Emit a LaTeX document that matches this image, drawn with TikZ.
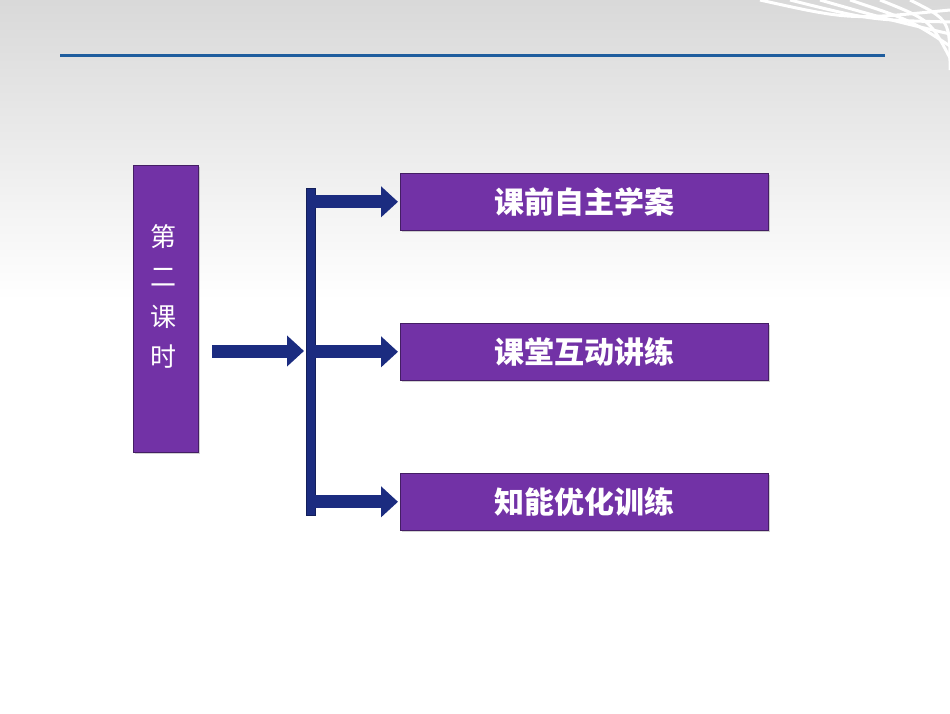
\documentclass[tikz,border=0pt]{standalone}
\usepackage{fontspec}
\newfontfamily\cjk{Noto Sans CJK SC}
\usetikzlibrary{positioning,arrows.meta,shadows}
\definecolor{topic}{HTML}{7232A6}
\definecolor{navy}{HTML}{1B2C80}
\definecolor{rule}{HTML}{1F5D9E}
\tikzset{
  topic/.style={fill=topic, draw=topic!60!black, line width=0.6pt, drop shadow={opacity=0.35},
    minimum width=368pt, minimum height=57pt, font=\cjk\bfseries\fontsize{30}{34}\selectfont, text=white},
  branch/.style={draw=navy, line width=13pt, -{Triangle[width=30pt,length=17pt]}, shorten >=2pt}
}
\begin{document}
\begin{tikzpicture}[x=1pt, y=-1pt]
  % background
  \useasboundingbox (0,0) rectangle (950,713);
  \shade[top color=black!15, bottom color=white] (0,0) rectangle (950,300);
  \fill[white] (0,300) rectangle (950,713);
  % top-right decoration
  \foreach \i in {0,...,5}
    \draw[white, line width=3pt] (760+\i*30,0) .. controls (850+\i*20,20) .. (950,10+\i*12);
  \draw[rule, line width=3pt] (60,55) -- (885,55);

  % left block
  \node[fill=topic, draw=topic!60!black, drop shadow={opacity=0.35}, minimum width=65pt, minimum height=287pt,
    anchor=north west, inner sep=0pt] (lesson) at (133,165) {};
  \node[font=\cjk\fontsize{26}{40}\selectfont, text=white, align=center] (title) at (163,296) {第\\二\\课\\时};

  % bar
  \node[fill=navy, draw=navy!70!black, minimum width=9pt, minimum height=327pt, inner sep=0pt,
    anchor=north west] (bar) at (306,188) {};

  % boxes
  \node[topic, anchor=north west] (pre) at (400,173) {课前自主学案};
  \node[topic, anchor=north west] (mid) at (400,323) {课堂互动讲练};
  \node[topic, anchor=north west] (post) at (400,473) {知能优化训练};

  % arrows
  \coordinate (in) at (212,351);
  \draw[branch] (in) -- (bar.west |- in);
  \foreach \b in {pre,mid,post}
    \draw[branch] (bar.east |- \b.west) -- (\b.west);
\end{tikzpicture}
\end{document}
